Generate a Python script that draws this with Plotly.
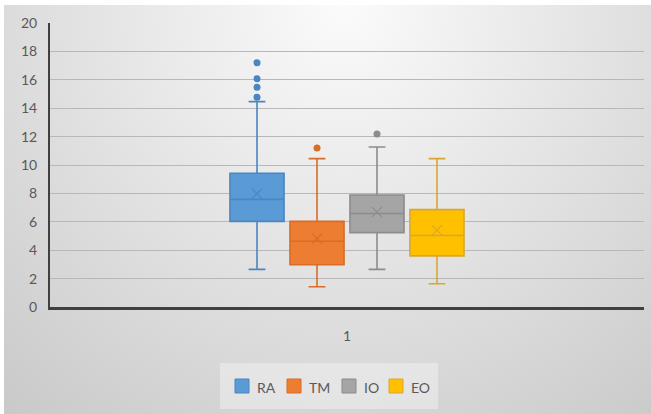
import base64
import plotly.graph_objects as go

# Box-plot statistics for each series (one category)
series = ["RA", "TM", "IO", "EO"]
lower_whisker = [2.65, 1.43, 2.65, 1.64]
q1 = [6.03, 2.98, 5.24, 3.60]
median = [7.58, 4.63, 6.58, 5.03]
mean = [7.98, 4.82, 6.69, 5.40]
q3 = [9.42, 6.03, 7.89, 6.86]
upper_whisker = [14.46, 10.45, 11.27, 10.45]
outliers = [[14.77, 15.47, 16.08, 17.20], [11.20], [12.19], []]
category_label = "1"
y_ticks = list(range(0, 21, 2))

fill_colors = ["#5b9bd5", "#ed7d31", "#a5a5a5", "#ffc000"]
line_colors = ["#4a86c2", "#d86c28", "#8c8c8c", "#d9a631"]

W, H = 651, 414
L, R, T, B = 50, 7, 23, 107
PW, PH = W - L - R, H - T - B

# group layout inside the single category
slot = 0.101
box_w = 0.091
n = len(series)
positions = [(i - (n - 1) / 2) * slot for i in range(n)]

fig = go.Figure()
for i, name in enumerate(series):
    fig.add_trace(go.Box(
        x=[positions[i]], q1=[q1[i]], median=[median[i]], q3=[q3[i]],
        lowerfence=[lower_whisker[i]], upperfence=[upper_whisker[i]],
        name=name, width=box_w, fillcolor=fill_colors[i],
        line=dict(color=line_colors[i], width=1.6), whiskerwidth=0.31,
        boxpoints=False, showlegend=False, hoverinfo="skip",
    ))
    fig.add_trace(go.Scatter(
        x=[positions[i]], y=[mean[i]], mode="markers",
        marker=dict(symbol="x-thin", size=10,
                    line=dict(color=line_colors[i], width=1.3)),
        opacity=0.8, showlegend=False, hoverinfo="skip",
    ))
    if outliers[i]:
        fig.add_trace(go.Scatter(
            x=[positions[i]] * len(outliers[i]), y=outliers[i], mode="markers",
            marker=dict(color=line_colors[i], size=7),
            showlegend=False, hoverinfo="skip",
        ))

# soft radial background
bw, bh = 647, 409
svg = (
    f'<svg xmlns="http://www.w3.org/2000/svg" width="{bw}" height="{bh}" '
    f'viewBox="0 0 {bw} {bh}" preserveAspectRatio="none"><defs>'
    f'<radialGradient id="g" cx="340" cy="0" r="540" gradientUnits="userSpaceOnUse">'
    f'<stop offset="0" stop-color="#fbfbfb"/><stop offset="0.6" stop-color="#dddddd"/>'
    f'<stop offset="1" stop-color="#c8c8c8"/></radialGradient></defs>'
    f'<rect width="{bw}" height="{bh}" fill="url(#g)"/></svg>'
)
src = "data:image/svg+xml;base64," + base64.b64encode(svg.encode()).decode()


def px_x(p):
    return (p - L) / PW


def px_y(p):
    return (H - B - p) / PH


fig.add_layout_image(
    source=src, xref="paper", yref="paper",
    x=px_x(W - bw), y=px_y(H - bh), sizex=bw / PW, sizey=bh / PH,
    xanchor="left", yanchor="top", sizing="stretch", layer="below",
)

font = dict(family="Lato, Liberation Sans, sans-serif", size=13, color="#595959")

# legend panel with one swatch + label per series
fig.add_shape(
    type="rect", xref="paper", yref="paper",
    x0=px_x(220), x1=px_x(438), y0=px_y(363), y1=px_y(409),
    fillcolor="rgba(255,255,255,0.35)", line=dict(width=0), layer="below",
)
legend_left = [235, 287, 342, 389]
legend_mid = 386
for i, name in enumerate(series):
    lx = legend_left[i]
    fig.add_shape(
        type="rect", xref="paper", yref="paper",
        x0=px_x(lx), x1=px_x(lx + 14),
        y0=px_y(legend_mid - 7), y1=px_y(legend_mid + 7),
        fillcolor=fill_colors[i], line=dict(color=line_colors[i], width=1),
    )
    fig.add_annotation(
        text=name, xref="paper", yref="paper",
        x=px_x(lx + 20), y=px_y(legend_mid + 1),
        xanchor="left", yanchor="middle", showarrow=False,
        font=dict(family=font["family"], size=14, color="#595959"),
    )

fig.update_layout(
    width=W, height=H,
    margin=dict(l=L, r=R, t=T, b=B),
    paper_bgcolor="white", plot_bgcolor="rgba(0,0,0,0)",
    font=font,
    showlegend=False,
    xaxis=dict(
        range=[-0.5, 0.5], tickvals=[0], ticktext=[category_label],
        showgrid=False, zeroline=False, showline=True,
        linecolor="#404040", linewidth=2.5, ticks="",
        ticklabelstandoff=14, tickfont=dict(font, size=14), fixedrange=True,
    ),
    yaxis=dict(
        range=[0, 20], tickvals=y_ticks,
        showgrid=True, gridcolor="#b8b8b8", gridwidth=1.3,
        zeroline=False, showline=True, linecolor="#404040", linewidth=2,
        ticks="", ticklabelstandoff=8, tickfont=dict(font, size=14), fixedrange=True,
    ),
)

fig.write_html("out.html")
